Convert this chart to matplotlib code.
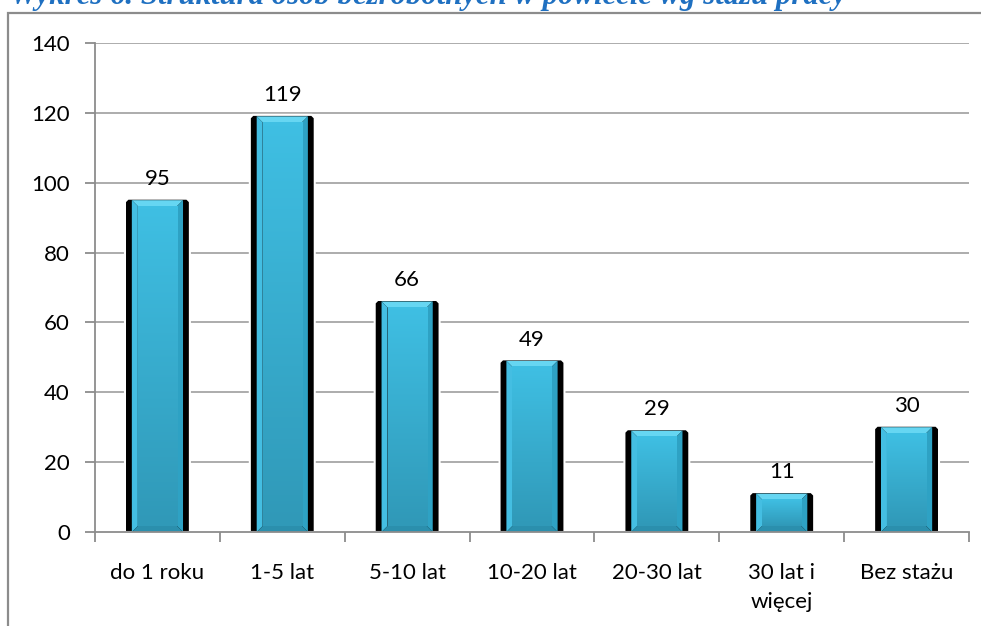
import numpy as np
import matplotlib
matplotlib.use('Agg')
import matplotlib.pyplot as plt
from matplotlib.patches import Polygon, Rectangle
from matplotlib.colors import LinearSegmentedColormap

# data
categories = ['do 1 roku', '1-5 lat', '5-10 lat', '10-20 lat', '20-30 lat',
              '30 lat i\nwięcej', 'Bez stażu']
values = [95, 119, 66, 49, 29, 11, 30]
y_ticks = [0, 20, 40, 60, 80, 100, 120, 140]
title = 'Wykres 6. Struktura osób bezrobotnych w powiecie wg stażu pracy'

plt.rcParams['font.family'] = ['Lato', 'DejaVu Sans']

W, H = 981, 626
fig = plt.figure(figsize=(W / 100, H / 100), dpi=100)
ax_l, ax_r, ax_t, ax_b = 95, 969, 43, 532
ax = fig.add_axes([ax_l / W, 1 - ax_b / H, (ax_r - ax_l) / W, (ax_b - ax_t) / H])

n = len(values)
ymax = y_ticks[-1]
# size of one pixel in data units
px = n / (ax_r - ax_l)
py = ymax / (ax_b - ax_t)

face_cmap = LinearSegmentedColormap.from_list('face', ['#3FBFE3', '#3099B8'])


def draw_bar(x, v):
    hw_out, hw = 0.26, 0.205
    c, cy = 3 * px, 3 * py
    top = v + 1.5 * py
    outline = Polygon([(x - hw_out, 0), (x - hw_out, top - cy), (x - hw_out + c, top),
                       (x + hw_out - c, top), (x + hw_out, top - cy), (x + hw_out, 0)],
                      closed=True, fc='black', ec='white', lw=1.5, zorder=3)
    ax.add_patch(outline)

    bx, by = 6 * px, 6 * py
    l, r = x - hw, x + hw
    # bevel pieces
    ax.add_patch(Polygon([(l, v), (r, v), (r - bx, v - by), (l + bx, v - by)],
                         fc='#66D6F2', ec='none', zorder=4))
    ax.add_patch(Polygon([(l, 0), (l, v), (l + bx, v - by), (l + bx, by)],
                         fc='#44BEE2', ec='none', zorder=4))
    ax.add_patch(Polygon([(r, 0), (r, v), (r - bx, v - by), (r - bx, by)],
                         fc='#2EA2C4', ec='none', zorder=4))
    ax.add_patch(Polygon([(l, 0), (r, 0), (r - bx, by), (l + bx, by)],
                         fc='#2B8FAD', ec='none', zorder=4))
    grad = np.linspace(0, 1, 64).reshape(-1, 1)
    ax.imshow(grad, cmap=face_cmap, aspect='auto', zorder=4, interpolation='bicubic',
              extent=(l + bx, r - bx, by, v - by))


for i, v in enumerate(values):
    draw_bar(i, v)
    ax.annotate(str(v), (i, v), xytext=(0, 11), textcoords='offset points',
                ha='center', va='baseline', fontsize=16, color='black', zorder=6)

ax.set_xlim(-0.5, n - 0.5)
ax.set_ylim(0, ymax)

ax.set_yticks(y_ticks)
ax.set_yticklabels([str(t) for t in y_ticks])
ax.set_xticks(range(n))
ax.set_xticklabels(categories, linespacing=1.6)
ax.set_xticks(np.arange(n + 1) - 0.5, minor=True)
ax.tick_params(axis='x', which='major', length=0, pad=22, labelsize=16)
ax.tick_params(axis='x', which='minor', length=7, width=1.3, color='#8C8C8C')
ax.tick_params(axis='y', length=7, width=1.3, color='#8C8C8C', pad=11, labelsize=16)

for yt in y_ticks[1:]:
    ax.axhline(yt, color='#A6A6A6', lw=1.3, zorder=1)

for s in ['top', 'right']:
    ax.spines[s].set_visible(False)
for s in ['left', 'bottom']:
    ax.spines[s].set_color('#8C8C8C')
    ax.spines[s].set_linewidth(1.3)
    ax.spines[s].set_zorder(5)

# outer chart border (runs off the right and bottom edge)
fig.add_artist(Rectangle((8 / W, -0.1), 1.0, 1.1 - 13 / H, transform=fig.transFigure,
                         fill=False, ec='#8C8C8C', lw=1.6))

# caption cut off by the top edge, as in the source
t = fig.text(10 / W, 1 - 4 / H, title, ha='left', va='baseline', color='#1F70C1',
             family='Liberation Serif', fontweight='bold', fontstyle='italic', fontsize=20)
fig.canvas.draw()
w = t.get_window_extent().width
t.set_fontsize(20 * 835 / w)

fig.savefig('out.png', dpi=100)
